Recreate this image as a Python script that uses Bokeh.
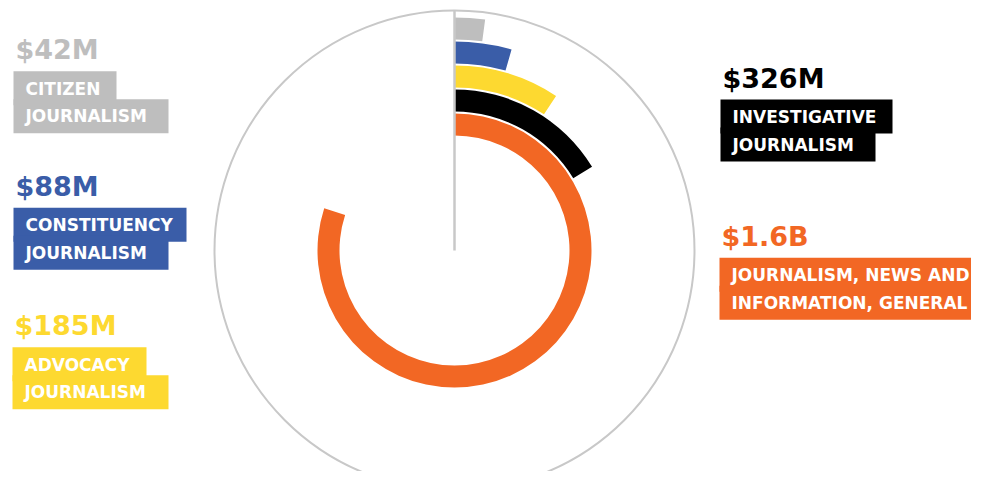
import math
from bokeh.plotting import figure
from bokeh.models import ColumnDataSource, Range1d
from bokeh.core.properties import value
from bokeh.embed import file_html
from bokeh.resources import INLINE

# ---- data ----
categories = [
    "Journalism, news and information, general",
    "Investigative journalism",
    "Advocacy journalism",
    "Constituency journalism",
    "Citizen journalism",
]
funding_musd = [1600, 326, 185, 88, 42]
value_labels = ["$1.6B", "$326M", "$185M", "$88M", "$42M"]
label_line1 = ["JOURNALISM, NEWS AND", "INVESTIGATIVE", "ADVOCACY", "CONSTITUENCY", "CITIZEN"]
label_line2 = ["INFORMATION, GENERAL", "JOURNALISM", "JOURNALISM", "JOURNALISM", "JOURNALISM"]
scale_max_musd = 2000

# ---- styles / layout ----
colors = ["#F26724", "#000000", "#FDD930", "#3A5DA8", "#BEBEBE"]
ring_color = "#C8C8C8"
FONT = value("DejaVu Sans")

W, H = 971, 471
def Y(ys):  # screen y (px from top of picture) -> data y
    return H - ys

cx, cy = 454, Y(250)
ring_r = 240
bar_r0, bar_w, bar_step = 115, 22, 24

p = figure(width=W, height=H, output_backend="svg", toolbar_location=None,
           x_range=Range1d(0, W), y_range=Range1d(0, H), min_border=0)
p.axis.visible = False
p.grid.visible = False
p.outline_line_color = None
p.background_fill_color = "white"
p.border_fill_color = "white"

# outer ring
p.circle(x=[cx], y=[cy], radius=ring_r, fill_color=None, line_color=ring_color, line_width=2)

# radial bars
n = len(funding_musd)
src = ColumnDataSource(dict(
    x=[cx] * n, y=[cy] * n,
    inner=[bar_r0 + i * bar_step for i in range(n)],
    outer=[bar_r0 + i * bar_step + bar_w for i in range(n)],
    start=[math.pi / 2] * n,
    end=[math.pi / 2 - v / scale_max_musd * 2 * math.pi for v in funding_musd],
    color=colors,
))
p.annular_wedge(x="x", y="y", inner_radius="inner", outer_radius="outer",
                start_angle="start", end_angle="end", direction="clock",
                fill_color="color", line_color=None, source=src)

# vertical reference line
p.segment(x0=[cx], y0=[cy], x1=[cx], y1=[cy + ring_r], line_color=ring_color, line_width=2.5)

# labels (layout in screen px): left x, box top, box1 width, box2 width
label_layout = [
    (719, 257.3, 260, 260),   # general
    (720, 99.0, 172, 155),    # investigative
    (12, 346.7, 134, 156),    # advocacy
    (13, 207.3, 173, 155),    # constituency
    (13, 70.7, 103, 155),     # citizen
]
for i in range(n):
    lx, top, w1, w2 = label_layout[i]
    col = colors[i]
    p.quad(left=[lx], right=[lx + w1], top=[Y(top)], bottom=[Y(top + 34)],
           fill_color=col, line_color=None)
    p.quad(left=[lx], right=[lx + w2], top=[Y(top + 28)], bottom=[Y(top + 62)],
           fill_color=col, line_color=None)
    p.text(x=[lx + 2], y=[Y(top - 21.5)], text=[value_labels[i]], text_color=col,
           text_font=FONT, text_font_style="bold", text_font_size="27px",
           text_baseline="alphabetic", text_align="left")
    p.text(x=[lx + 12], y=[Y(top + 17.3)], text=[label_line1[i]], text_color="white",
           text_font=FONT, text_font_style="bold", text_font_size="17px",
           text_baseline="alphabetic", text_align="left")
    p.text(x=[lx + 12], y=[Y(top + 45)], text=[label_line2[i]], text_color="white",
           text_font=FONT, text_font_style="bold", text_font_size="17px",
           text_baseline="alphabetic", text_align="left")

open("out.html", "w").write(file_html(p, INLINE))
